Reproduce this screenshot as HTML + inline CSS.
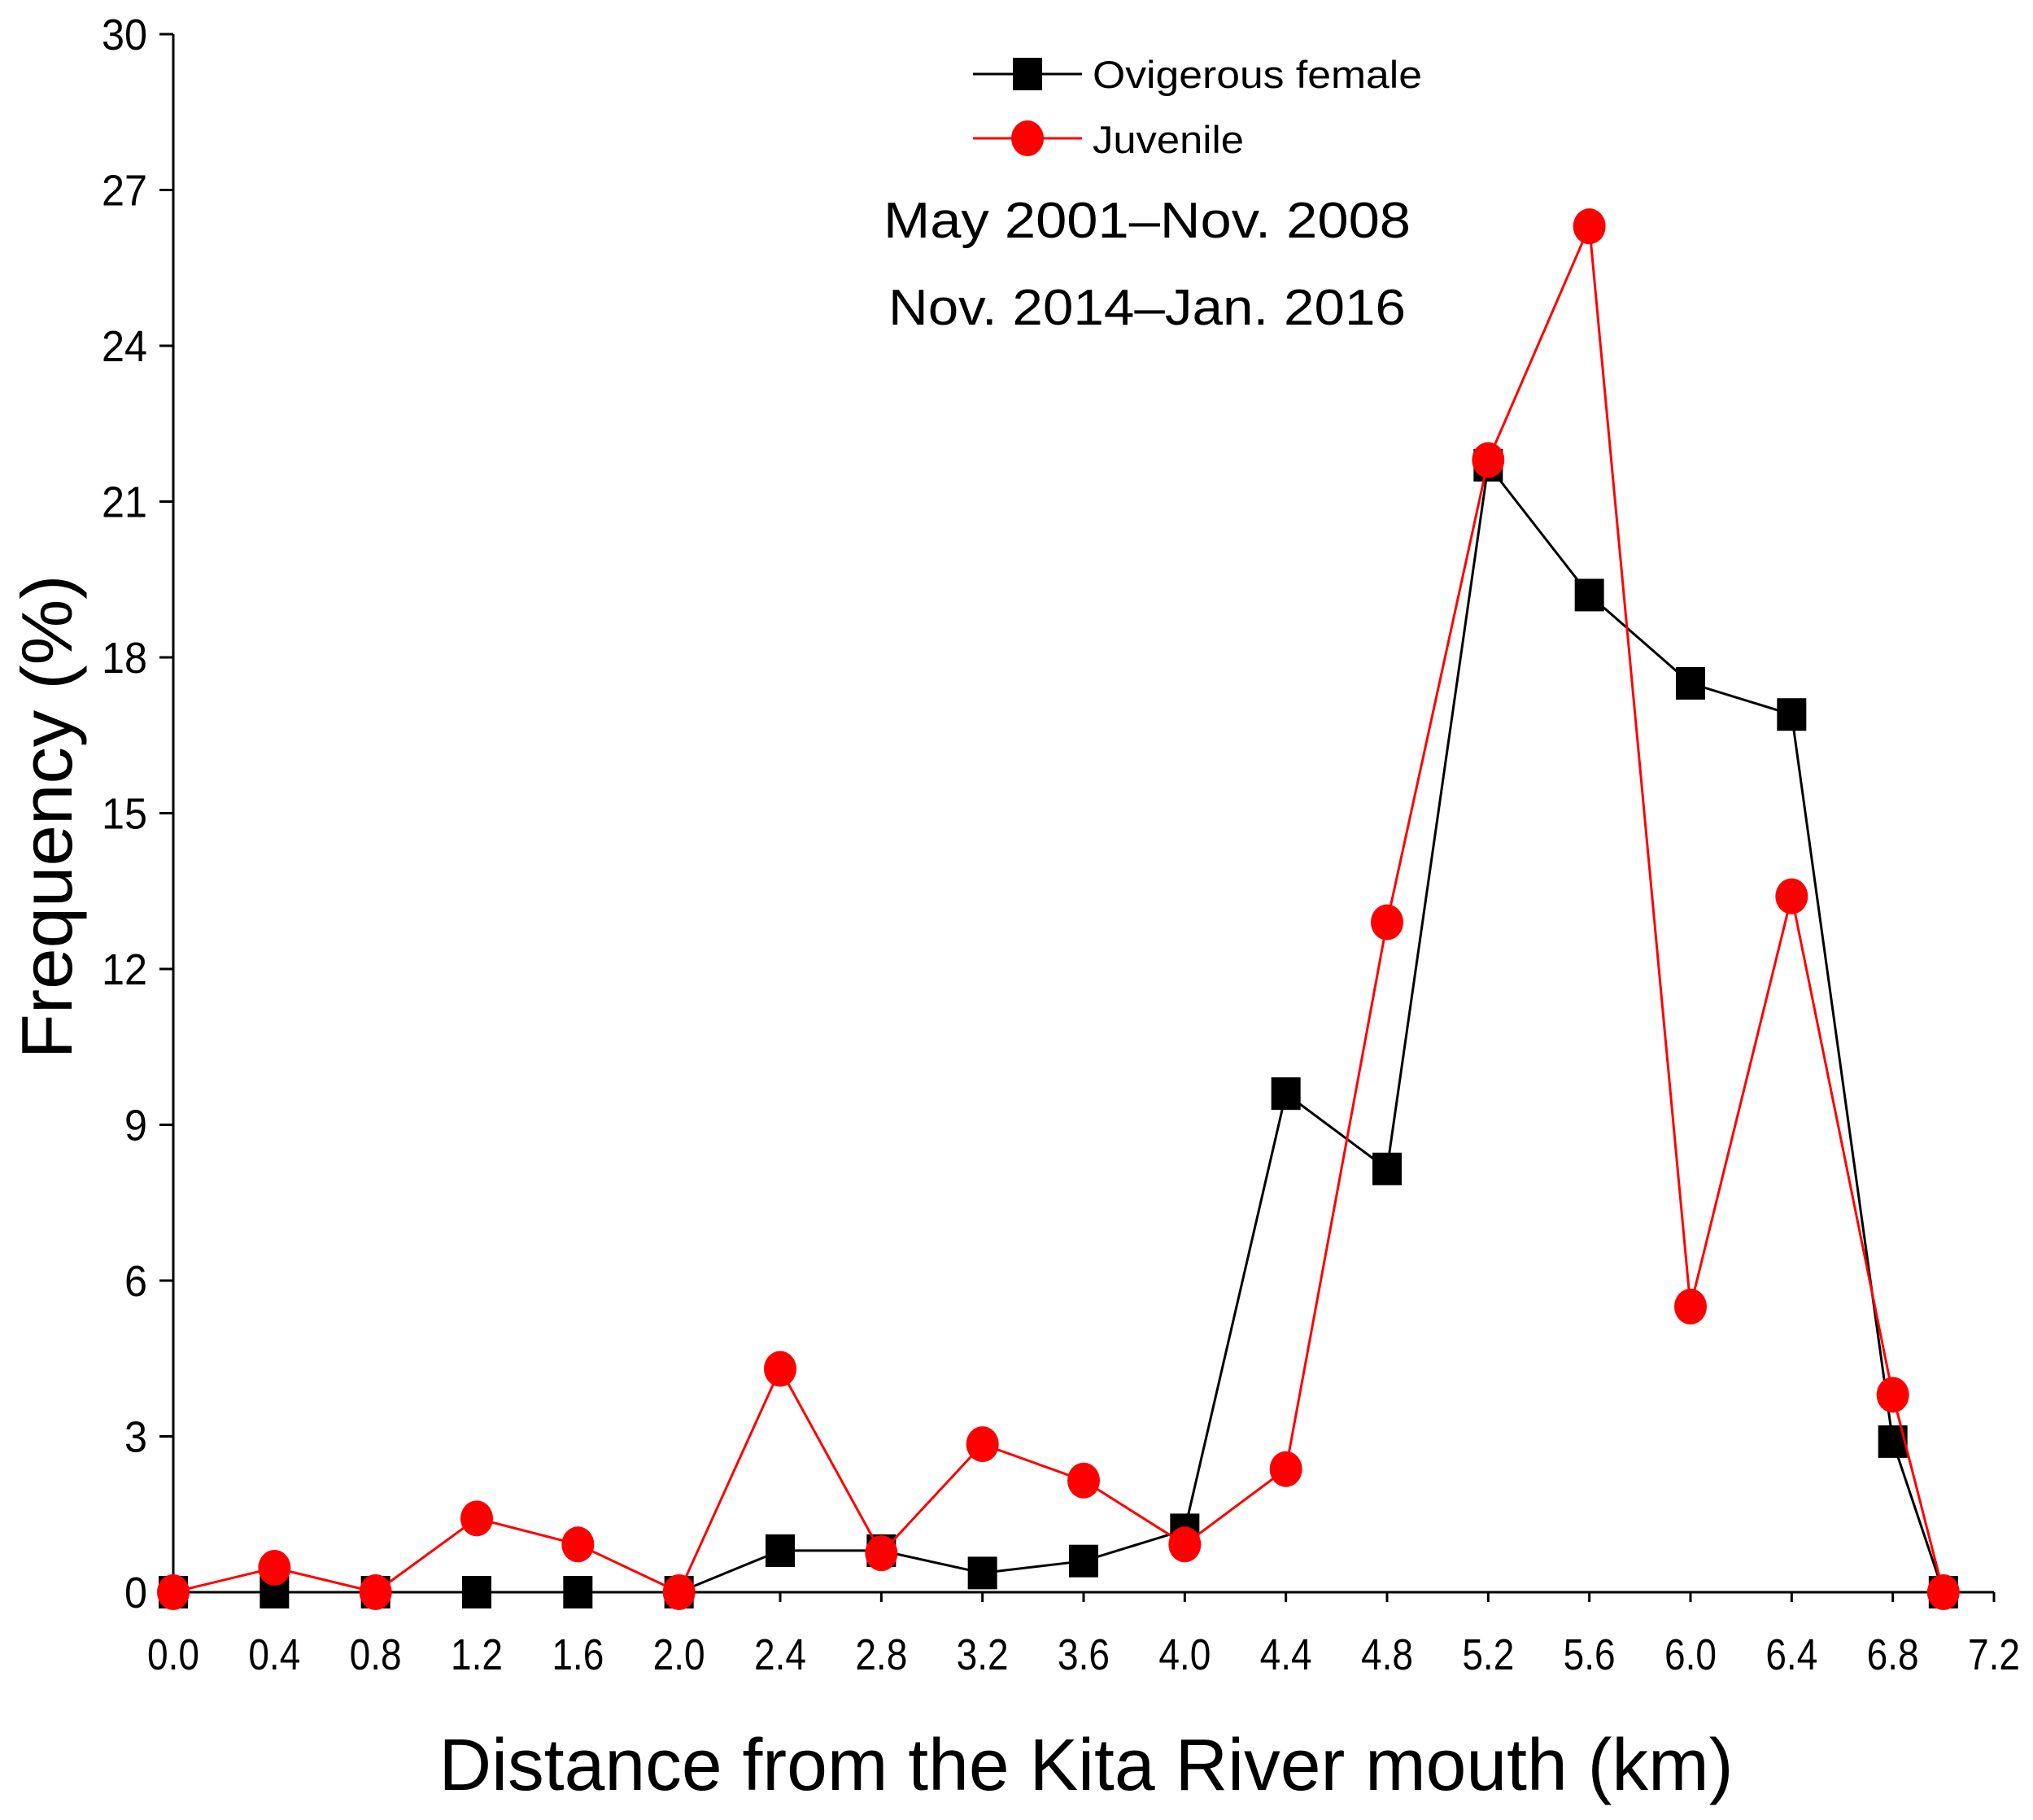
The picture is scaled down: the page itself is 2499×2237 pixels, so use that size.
<!DOCTYPE html>
<html><head><meta charset="utf-8"><style>
html,body{margin:0;padding:0;background:#fff;}
svg{display:block;font-family:"Liberation Sans",sans-serif;}
</style></head><body>
<svg id="chart" width="2499" height="2237" viewBox="0 0 2499 2237" xmlns="http://www.w3.org/2000/svg">
<g id="axes"></g>
<g id="series"></g>
<g>
  <g>
    <line x1="1196" y1="91" x2="1330" y2="91" stroke="#000" stroke-width="3"/>
    <rect x="1245" y="71" width="36" height="40" fill="#000"/>
    <text x="1343" y="108" font-size="47" textLength="405" lengthAdjust="spacingAndGlyphs">Ovigerous female</text>
  </g>
  <g>
    <line x1="1196" y1="170" x2="1330" y2="170" stroke="#f00" stroke-width="3"/>
    <ellipse cx="1263" cy="170" rx="20" ry="22" fill="#f00"/>
    <text x="1343" y="188" font-size="47" textLength="186" lengthAdjust="spacingAndGlyphs">Juvenile</text>
  </g>
</g>
<text x="1410" y="292" font-size="62" text-anchor="middle" textLength="648" lengthAdjust="spacingAndGlyphs">May 2001–Nov. 2008</text>
<text x="1410" y="399" font-size="62" text-anchor="middle" textLength="636" lengthAdjust="spacingAndGlyphs">Nov. 2014–Jan. 2016</text>
<text x="1335" y="2200" font-size="90" text-anchor="middle" textLength="1591" lengthAdjust="spacingAndGlyphs">Distance from the Kita River mouth (km)</text>
<text x="0" y="0" font-size="88" text-anchor="middle" textLength="595" lengthAdjust="spacingAndGlyphs" transform="translate(88,1004) rotate(-90)">Frequency (%)</text>
</svg>
<script>
const xValues = [0,0.4,0.8,1.2,1.6,2.0,2.4,2.8,3.2,3.6,4.0,4.4,4.8,5.2,5.6,6.0,6.4,6.8,7.0];
const femaleValues = [0,0,0,0,0,0,0.8,0.8,0.37,0.6,1.2,9.6,8.15,21.7,19.2,17.5,16.9,2.9,0];
const juvenileValues = [0,0.47,0,1.42,0.92,0,4.3,0.75,2.85,2.15,0.92,2.37,12.9,21.8,26.3,5.5,13.4,3.8,0];
const xTicks = ["0.0","0.4","0.8","1.2","1.6","2.0","2.4","2.8","3.2","3.6","4.0","4.4","4.8","5.2","5.6","6.0","6.4","6.8","7.2"];
const yTicks = [0,3,6,9,12,15,18,21,24,27,30];

const NS = "http://www.w3.org/2000/svg";
const X0 = 213, X1 = 2451, XMAX = 7.2, Y0 = 1957, Y1 = 42, YMAX = 30;
function sx(v){ return X0 + v / XMAX * (X1 - X0); }
function sy(v){ return Y0 - v / YMAX * (Y0 - Y1); }
function mk(tag, attrs, parent){
  const e = document.createElementNS(NS, tag);
  for (const k in attrs) e.setAttribute(k, attrs[k]);
  parent.appendChild(e);
  return e;
}
const axes = document.getElementById('axes');
const series = document.getElementById('series');

let yAxis = mk('line', {x1:X0, y1:Y1, x2:X0, y2:Y0, stroke:'#000', 'stroke-width':3}, axes);


let xAxis = mk('line', {x1:X0, y1:Y0, x2:X1, y2:Y0, stroke:'#000', 'stroke-width':3}, axes);



yTicks.forEach(v => {
  const y = sy(v);
  mk('line', {x1:X0-17, y1:y, x2:X0, y2:y, stroke:'#000', 'stroke-width':3}, axes);
  const t = mk('text', {x:181, y:y+19, 'font-size':54, 'text-anchor':'end', textLength:(String(v).length*28), lengthAdjust:'spacingAndGlyphs'}, axes);
  t.textContent = v;
  
  
});
xTicks.forEach(l => {
  const x = sx(parseFloat(l));
  mk('line', {x1:x, y1:Y0, x2:x, y2:Y0+12, stroke:'#000', 'stroke-width':3}, axes);
  const t = mk('text', {x:x, y:2052, 'font-size':54, 'text-anchor':'middle', textLength:64, lengthAdjust:'spacingAndGlyphs'}, axes);
  t.textContent = l;
  
  
});

function drawSeries(vals, color, shape, name){
  const g = mk('g', {}, series);
  
  
  const pts = vals.map((v,i) => sx(xValues[i]) + ',' + sy(v)).join(' ');
  const pl = mk('polyline', {points:pts, fill:'none', stroke:color, 'stroke-width':3}, g);
  
  
  vals.forEach((v,i) => {
    const cx = sx(xValues[i]), cy = sy(v);
    let m;
    if (shape === 'square') m = mk('rect', {x:cx-18, y:cy-20, width:36, height:40, fill:color}, g);
    else m = mk('ellipse', {cx:cx, cy:cy, rx:20, ry:22, fill:color}, g);
    
    
  });
}
drawSeries(femaleValues, '#000', 'square', 'ovigerous-female');
drawSeries(juvenileValues, '#f00', 'circle', 'juvenile');
</script>
</body></html>
